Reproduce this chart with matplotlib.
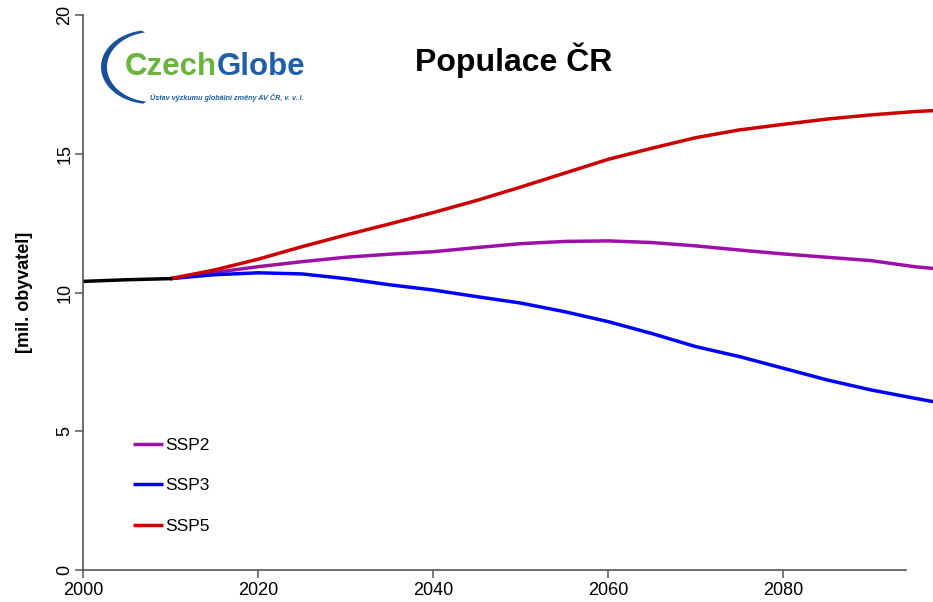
import numpy as np
import matplotlib
matplotlib.use("Agg")
import matplotlib.pyplot as plt

plt.rcParams['font.family'] = ['Liberation Sans', 'DejaVu Sans']

# population of the Czech Republic [mil.]
years_hist = [2000, 2005, 2010]
pop_hist = [10.40, 10.46, 10.50]

years = [2010, 2015, 2020, 2025, 2030, 2035, 2040, 2045, 2050, 2055,
         2060, 2065, 2070, 2075, 2080, 2085, 2090, 2095, 2100]
ssp2 = [10.50, 10.72, 10.93, 11.11, 11.27, 11.38, 11.47, 11.62, 11.76, 11.84,
        11.86, 11.80, 11.68, 11.53, 11.39, 11.27, 11.15, 10.93, 10.78]
ssp3 = [10.50, 10.64, 10.71, 10.67, 10.50, 10.28, 10.09, 9.85, 9.62, 9.31,
        8.95, 8.52, 8.05, 7.69, 7.27, 6.85, 6.49, 6.19, 5.90]
ssp5 = [10.50, 10.81, 11.20, 11.65, 12.07, 12.47, 12.88, 13.32, 13.80, 14.30,
        14.80, 15.20, 15.58, 15.86, 16.06, 16.25, 16.40, 16.52, 16.60]

series = [("SSP2", ssp2, "#9c10a8"), ("SSP3", ssp3, "#0000ff"), ("SSP5", ssp5, "#cc0000")]

W, H = 933, 602
fig = plt.figure(figsize=(W / 100, H / 100), dpi=100)
ax = fig.add_axes([83 / W, 32 / H, 1 - 83 / W, 555 / H])

for name, vals, col in series:
    ax.plot(years, vals, color=col, lw=2.5, label=name, solid_capstyle="butt")
ax.plot(years_hist, pop_hist, color="black", lw=2.5)

ax.set_xlim(2000, 2097.1)
ax.set_ylim(0, 20)
ax.set_xticks([2000, 2020, 2040, 2060, 2080])
ax.set_yticks([0, 5, 10, 15, 20])
ax.spines[["top", "right"]].set_visible(False)
for s in ["left", "bottom"]:
    ax.spines[s].set_color("#555555")
    ax.spines[s].set_linewidth(1.2)
ax.spines["bottom"].set_bounds(2000, 2094)
ax.tick_params(direction="out", length=5.5, width=1.1, color="#555555", labelsize=13)
ax.tick_params(axis="x", pad=3)
ax.tick_params(axis="y", pad=1.5)
plt.setp(ax.get_yticklabels(), rotation=90, va="center")
ax.set_ylabel("[mil. obyvatel]", fontsize=13, fontweight="bold", labelpad=17)

leg = ax.legend(loc="upper left", bbox_to_anchor=(133 / W, 1 - 438 / H),
                bbox_transform=fig.transFigure, frameon=False, fontsize=12.5,
                handlelength=1.75, handletextpad=0.12, labelspacing=1.45,
                borderpad=0, borderaxespad=0)

fig.text(514 / W, 1 - 60 / H, "Populace ČR", fontsize=23, fontweight="bold",
         ha="center", va="center")

# CzechGlobe logo
lg = fig.add_axes([0, 0, 1, 1], zorder=5)
lg.set_xlim(0, W)
lg.set_ylim(H, 0)
lg.axis("off")
t = np.linspace(np.radians(100), np.radians(262), 200)
outer_x = 150 + 49 * np.cos(t)
outer_y = 67 - 37 * np.sin(t)
inner_x = 153 + 46 * np.cos(t[::-1])
inner_y = 67 - 35 * np.sin(t[::-1])
lg.fill(np.r_[outer_x, inner_x], np.r_[outer_y, inner_y], color="#1a4f9c", lw=0)
czech = lg.text(125, 67, "Czech", color="#6ab43e", fontsize=22.5, fontweight="bold", va="center")
lg.annotate("Globe", xy=(1, 0.5), xycoords=czech, color="#1f5fa8", fontsize=22.5,
            fontweight="bold", va="center", ha="left")
lg.text(150, 98, "Ústav výzkumu globální změny AV ČR, v. v. i.", color="#1f5fa8",
        fontsize=5.2, fontweight="bold", style="italic", va="center")

fig.savefig("out.png", dpi=100)
